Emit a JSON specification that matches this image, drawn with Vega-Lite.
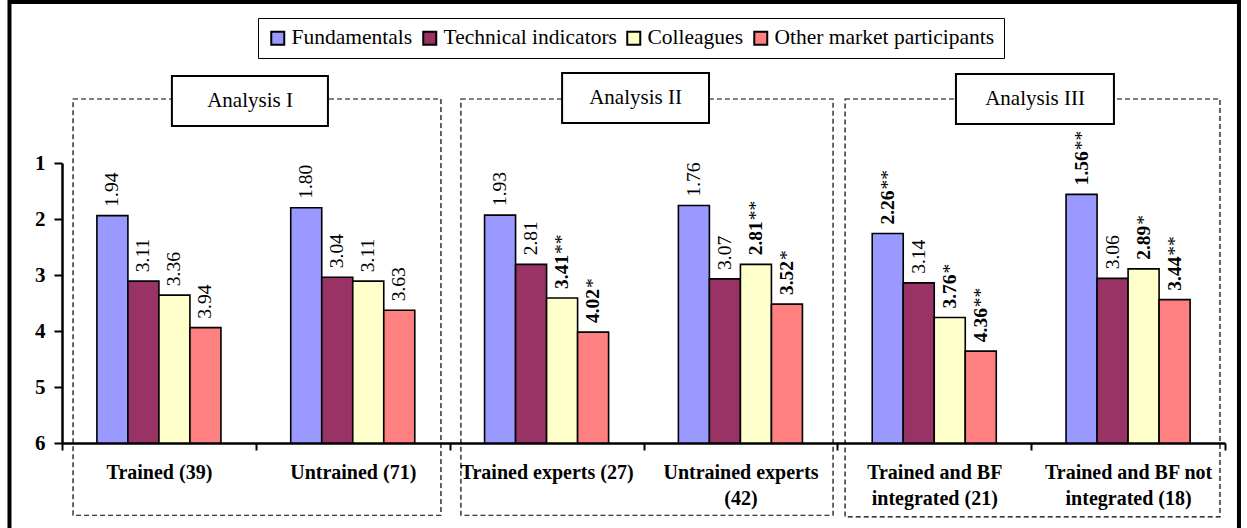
{
  "$schema": "https://vega.github.io/schema/vega-lite/v6.json",
  "width": 1163,
  "height": 280,
  "autosize": {"type": "none"},
  "padding": {"left": 62, "top": 163, "right": 22, "bottom": 85},
  "background": "white",
  "config": {"view": {"stroke": null}, "font": "Liberation Serif"},
  "datasets": {
    "bars": [
      {"group": "Trained (39)", "category": "Fundamentals", "value": 1.94, "stars": ""},
      {"group": "Trained (39)", "category": "Technical indicators", "value": 3.11, "stars": ""},
      {"group": "Trained (39)", "category": "Colleagues", "value": 3.36, "stars": ""},
      {"group": "Trained (39)", "category": "Other market participants", "value": 3.94, "stars": ""},
      {"group": "Untrained (71)", "category": "Fundamentals", "value": 1.80, "stars": ""},
      {"group": "Untrained (71)", "category": "Technical indicators", "value": 3.04, "stars": ""},
      {"group": "Untrained (71)", "category": "Colleagues", "value": 3.11, "stars": ""},
      {"group": "Untrained (71)", "category": "Other market participants", "value": 3.63, "stars": ""},
      {"group": "Trained experts (27)", "category": "Fundamentals", "value": 1.93, "stars": ""},
      {"group": "Trained experts (27)", "category": "Technical indicators", "value": 2.81, "stars": ""},
      {"group": "Trained experts (27)", "category": "Colleagues", "value": 3.41, "stars": "**"},
      {"group": "Trained experts (27)", "category": "Other market participants", "value": 4.02, "stars": "*"},
      {"group": "Untrained experts (42)", "category": "Fundamentals", "value": 1.76, "stars": ""},
      {"group": "Untrained experts (42)", "category": "Technical indicators", "value": 3.07, "stars": ""},
      {"group": "Untrained experts (42)", "category": "Colleagues", "value": 2.81, "stars": "**"},
      {"group": "Untrained experts (42)", "category": "Other market participants", "value": 3.52, "stars": "*"},
      {"group": "Trained and BF integrated (21)", "category": "Fundamentals", "value": 2.26, "stars": "**"},
      {"group": "Trained and BF integrated (21)", "category": "Technical indicators", "value": 3.14, "stars": ""},
      {"group": "Trained and BF integrated (21)", "category": "Colleagues", "value": 3.76, "stars": "*"},
      {"group": "Trained and BF integrated (21)", "category": "Other market participants", "value": 4.36, "stars": "**"},
      {"group": "Trained and BF not integrated (18)", "category": "Fundamentals", "value": 1.56, "stars": "**"},
      {"group": "Trained and BF not integrated (18)", "category": "Technical indicators", "value": 3.06, "stars": ""},
      {"group": "Trained and BF not integrated (18)", "category": "Colleagues", "value": 2.89, "stars": "*"},
      {"group": "Trained and BF not integrated (18)", "category": "Other market participants", "value": 3.44, "stars": "**"}
    ],
    "frame": [{"x1": -0.271, "x2": 6.072, "y1": -1.875, "y2": 7.7}],
    "boxes": [
      {"x1": 0.057, "x2": 1.955, "y1": -0.143, "y2": 7.29},
      {"x1": 2.058, "x2": 3.978, "y1": -0.143, "y2": 7.29},
      {"x1": 4.040, "x2": 5.974, "y1": -0.143, "y2": 7.32}
    ],
    "titles": [
      {"label": "Analysis I", "x1": 0.567, "x2": 1.372, "y1": -0.554, "y2": 0.339, "xc": 0.970, "yc": -0.107},
      {"label": "Analysis II", "x1": 2.580, "x2": 3.338, "y1": -0.607, "y2": 0.286, "xc": 2.959, "yc": -0.161},
      {"label": "Analysis III", "x1": 4.612, "x2": 5.427, "y1": -0.589, "y2": 0.304, "xc": 5.020, "yc": -0.143}
    ]
  },
  "layer": [
    {
      "data": {"name": "frame"},
      "mark": {"type": "rect", "filled": false, "stroke": "black", "strokeWidth": 4, "clip": false},
      "encoding": {
        "x": {"field": "x1", "type": "quantitative", "scale": {"domain": [0, 6], "nice": false, "zero": false}, "axis": null},
        "x2": {"field": "x2"},
        "y": {"field": "y1", "type": "quantitative", "scale": {"domain": [1, 6], "reverse": true, "nice": false, "zero": false}, "axis": null},
        "y2": {"field": "y2"}
      }
    },
    {
      "data": {"name": "boxes"},
      "mark": {"type": "rect", "filled": false, "stroke": "black", "strokeWidth": 1.2, "strokeDash": [5, 3], "clip": false},
      "encoding": {
        "x": {"field": "x1", "type": "quantitative", "scale": {"domain": [0, 6], "nice": false, "zero": false}, "axis": null},
        "x2": {"field": "x2"},
        "y": {"field": "y1", "type": "quantitative", "scale": {"domain": [1, 6], "reverse": true, "nice": false, "zero": false}, "axis": null},
        "y2": {"field": "y2"}
      }
    },
    {
      "data": {"name": "bars"},
      "layer": [
        {
          "mark": {"type": "bar", "stroke": "black", "strokeWidth": 1.6, "opacity": 1},
          "encoding": {
            "x": {
              "field": "group", "type": "nominal",
              "scale": {"domain": ["Trained (39)", "Untrained (71)", "Trained experts (27)", "Untrained experts (42)", "Trained and BF integrated (21)", "Trained and BF not integrated (18)"], "paddingInner": 0, "paddingOuter": 0},
              "axis": {
                "title": null, "labelAngle": 0, "tickBand": "extent", "tickSize": 7, "tickWidth": 2, "tickColor": "black",
                "domainWidth": 2.5, "domainColor": "black", "labelColor": "black", "labelFontWeight": "bold", "labelFontSize": 20,
                "labelFont": "Liberation Serif", "labelPadding": 12, "labelLineHeight": 26, "labelLimit": 0,
                "labelExpr": "datum.value == 'Untrained experts (42)' ? ['Untrained experts', '(42)'] : datum.value == 'Trained and BF integrated (21)' ? ['Trained and BF', 'integrated (21)'] : datum.value == 'Trained and BF not integrated (18)' ? ['Trained and BF not', 'integrated (18)'] : datum.label"
              }
            },
            "xOffset": {
              "field": "category", "type": "nominal",
              "scale": {"domain": ["pad0", "Fundamentals", "Technical indicators", "Colleagues", "Other market participants", "pad1"], "paddingInner": 0, "paddingOuter": 0.125}
            },
            "y": {
              "field": "value", "type": "quantitative",
              "scale": {"domain": [1, 6], "reverse": true, "nice": false, "zero": false},
              "axis": {
                "title": null, "values": [1, 2, 3, 4, 5, 6], "format": "d", "grid": false, "tickSize": 8, "tickWidth": 2, "tickColor": "black",
                "domainWidth": 2.5, "domainColor": "black", "labelColor": "black", "labelFontWeight": "bold", "labelFontSize": 21,
                "labelFont": "Liberation Serif", "labelPadding": 9
              }
            },
            "y2": {"datum": 6},
            "color": {
              "field": "category", "type": "nominal",
              "scale": {"domain": ["Fundamentals", "Technical indicators", "Colleagues", "Other market participants"], "range": ["#9999FF", "#993366", "#FFFFCC", "#FF8080"]},
              "legend": {
                "orient": "none", "legendX": 196, "legendY": -145, "direction": "horizontal", "title": null,
                "symbolType": "square", "symbolSize": 169, "symbolStrokeColor": "black", "symbolStrokeWidth": 2, "symbolOpacity": 1,
                "labelFont": "Liberation Serif", "labelFontSize": 21.5, "labelColor": "black", "labelOffset": 3, "columnPadding": 6,
                "padding": 9, "strokeColor": "black", "fillColor": "white", "labelLimit": 0
              }
            }
          }
        },
        {
          "transform": [{"filter": "datum.stars == ''"}],
          "mark": {"type": "text", "angle": 270, "align": "left", "baseline": "middle", "dx": 9, "fontSize": 19.5, "font": "Liberation Serif", "color": "black"},
          "encoding": {
            "x": {"field": "group", "type": "nominal"},
            "xOffset": {"field": "category", "type": "nominal"},
            "y": {"field": "value", "type": "quantitative"},
            "text": {"field": "value", "type": "quantitative", "format": ".2f"}
          }
        },
        {
          "transform": [{"filter": "datum.stars != ''"}],
          "mark": {"type": "text", "angle": 270, "align": "left", "baseline": "middle", "dx": 9, "fontSize": 19.5, "fontWeight": "bold", "font": "Liberation Serif", "color": "black"},
          "encoding": {
            "x": {"field": "group", "type": "nominal"},
            "xOffset": {"field": "category", "type": "nominal"},
            "y": {"field": "value", "type": "quantitative"},
            "text": {"field": "value", "type": "quantitative", "format": ".2f"}
          }
        },
        {
          "transform": [{"filter": "datum.stars != ''"}],
          "mark": {"type": "text", "angle": 270, "align": "left", "baseline": "middle", "dx": 44, "fontSize": 19.5, "font": "Liberation Serif", "color": "black"},
          "encoding": {
            "x": {"field": "group", "type": "nominal"},
            "xOffset": {"field": "category", "type": "nominal"},
            "y": {"field": "value", "type": "quantitative"},
            "text": {"field": "stars", "type": "nominal"}
          }
        }
      ]
    },
    {
      "data": {"name": "titles"},
      "mark": {"type": "rect", "fill": "white", "stroke": "black", "strokeWidth": 2, "clip": false},
      "encoding": {
        "x": {"field": "x1", "type": "quantitative", "scale": {"domain": [0, 6], "nice": false, "zero": false}, "axis": null},
        "x2": {"field": "x2"},
        "y": {"field": "y1", "type": "quantitative", "scale": {"domain": [1, 6], "reverse": true, "nice": false, "zero": false}, "axis": null},
        "y2": {"field": "y2"}
      }
    },
    {
      "data": {"name": "titles"},
      "mark": {"type": "text", "align": "center", "baseline": "middle", "fontSize": 21, "font": "Liberation Serif", "color": "black", "clip": false},
      "encoding": {
        "x": {"field": "xc", "type": "quantitative", "scale": {"domain": [0, 6], "nice": false, "zero": false}, "axis": null},
        "y": {"field": "yc", "type": "quantitative", "scale": {"domain": [1, 6], "reverse": true, "nice": false, "zero": false}, "axis": null},
        "text": {"field": "label", "type": "nominal"}
      }
    }
  ],
  "resolve": {"scale": {"x": "independent", "y": "independent"}}
}
